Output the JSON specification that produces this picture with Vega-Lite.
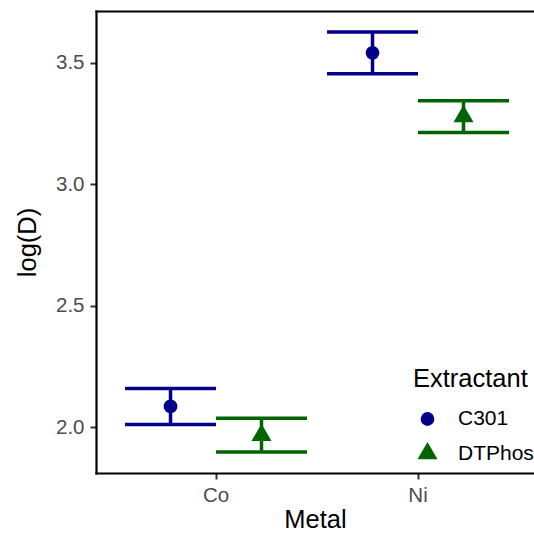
{
  "$schema": "https://vega.github.io/schema/vega-lite/v6.json",
  "width": 438,
  "height": 462,
  "autosize": {"type": "none"},
  "padding": {"left": 96, "top": 11, "right": 0, "bottom": 60},
  "background": "white",
  "config": {
    "font": "Liberation Sans",
    "view": {"stroke": null},
    "axis": {
      "grid": false,
      "domainColor": "black",
      "domainWidth": 2.2,
      "domainCap": "square",
      "tickColor": "#333333",
      "tickWidth": 2,
      "tickSize": 6,
      "labelPadding": 6,
      "labelFont": "Liberation Sans",
      "labelFontSize": 20.5,
      "labelColor": "#4D4D4D",
      "titleFont": "Liberation Sans",
      "titleFontSize": 25.5,
      "titleFontWeight": "normal",
      "titleColor": "black"
    },
    "legend": {
      "orient": "none",
      "legendX": 317,
      "legendY": 356,
      "padding": 0,
      "titleFont": "Liberation Sans",
      "titleFontSize": 25.5,
      "titleFontWeight": "normal",
      "titleColor": "black",
      "titlePadding": 16,
      "labelFont": "Liberation Sans",
      "labelFontSize": 21,
      "labelColor": "black",
      "rowPadding": 11.5,
      "symbolOffset": 4,
      "labelOffset": 20,
      "symbolStrokeWidth": 0,
      "symbolOpacity": 1
    }
  },
  "data": {
    "values": [
      {"Metal": "Co", "Extractant": "C301", "mean": 2.086, "lower": 2.012, "upper": 2.160},
      {"Metal": "Co", "Extractant": "DTPhos", "mean": 1.967, "lower": 1.898, "upper": 2.037},
      {"Metal": "Ni", "Extractant": "C301", "mean": 3.541, "lower": 3.455, "upper": 3.627},
      {"Metal": "Ni", "Extractant": "DTPhos", "mean": 3.279, "lower": 3.213, "upper": 3.344}
    ]
  },
  "encoding": {
    "x": {
      "field": "Metal",
      "type": "nominal",
      "scale": {"domain": ["Co", "Ni"], "paddingInner": 0, "paddingOuter": 0.0842, "align": 0.559},
      "axis": {"title": "Metal", "labelAngle": 0, "titlePadding": 2}
    },
    "xOffset": {
      "field": "Extractant",
      "type": "nominal",
      "scale": {"domain": ["C301", "DTPhos"], "paddingInner": 0, "paddingOuter": 0.11}
    },
    "color": {
      "field": "Extractant",
      "type": "nominal",
      "scale": {"domain": ["C301", "DTPhos"], "range": ["#00008B", "#006400"]},
      "legend": {"title": "Extractant"}
    }
  },
  "layer": [
    {
      "mark": {"type": "rule", "strokeWidth": 3.5, "opacity": 1},
      "encoding": {
        "x": {
          "field": "Metal",
          "type": "nominal",
          "axis": {"orient": "top", "labels": false, "ticks": false, "title": null, "domain": true}
        },
        "y": {
          "field": "lower",
          "type": "quantitative",
          "scale": {"domain": [1.812, 3.713], "nice": false, "zero": false},
          "axis": {"values": [2, 2.5, 3, 3.5], "format": ".1f", "title": "log(D)", "titlePadding": 15}
        },
        "y2": {"field": "upper"}
      }
    },
    {
      "layer": [
        {
          "mark": {"type": "tick", "orient": "horizontal", "size": 91, "thickness": 3.5, "opacity": 1},
          "encoding": {"y": {"field": "upper", "type": "quantitative"}}
        },
        {
          "mark": {"type": "tick", "orient": "horizontal", "size": 91, "thickness": 3.5, "opacity": 1},
          "encoding": {"y": {"field": "lower", "type": "quantitative"}}
        },
        {
          "mark": {"type": "point", "filled": true, "opacity": 1, "strokeWidth": 0},
          "encoding": {
            "y": {"field": "mean", "type": "quantitative"},
            "shape": {
              "field": "Extractant",
              "type": "nominal",
              "scale": {"domain": ["C301", "DTPhos"], "range": ["circle", "M0,-1.155L1,0.578L-1,0.578Z"]}
            },
            "size": {
              "field": "Extractant",
              "type": "nominal",
              "scale": {"domain": ["C301", "DTPhos"], "range": [190, 400]}
            }
          }
        }
      ]
    }
  ],
  "resolve": {"axis": {"x": "independent"}}
}
